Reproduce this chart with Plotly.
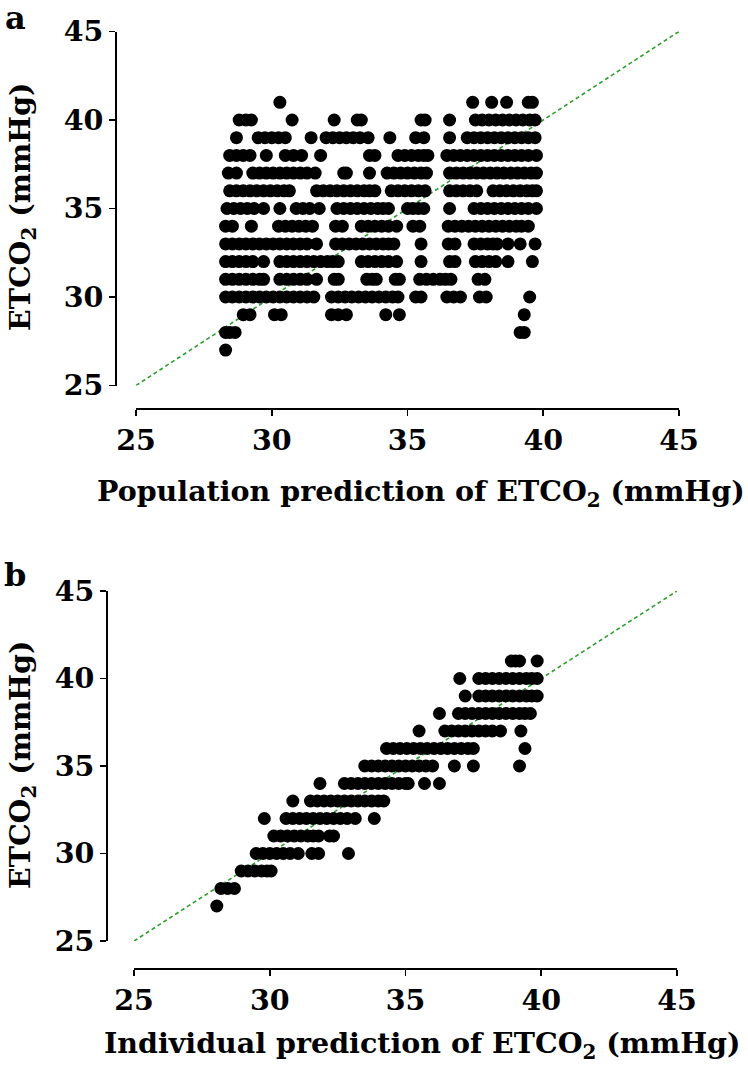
import plotly.graph_objects as go

# ---------------- Panel a: population prediction (x) vs observed ETCO2 (y) ----------------
pop_x_41 = [30.3, 37.4, 38.1, 38.65, 39.45, 39.6]
pop_x_40 = [28.8, 29.05, 29.25, 30.75, 32.3, 33.15, 33.3, 35.5, 35.65, 36.55, 37.5, 37.75, 38.0, 38.25,
            38.5, 38.75, 39.0, 39.25, 39.5, 39.7]
pop_x_39 = [28.7, 29.5, 29.75, 30.0, 30.25, 30.5, 31.45, 32.0, 32.25, 32.5, 32.75, 33.0, 33.25, 33.55,
            34.35, 35.3, 35.6, 36.55, 37.2, 37.45, 37.7, 37.95, 38.2, 38.45, 38.7, 38.95, 39.2, 39.45, 39.7]
pop_x_38 = [28.45, 28.7, 28.95, 29.2, 29.8, 30.5, 30.8, 31.1, 31.8, 33.6, 33.8, 34.65, 34.9, 35.15, 35.4,
            35.6, 35.75, 36.45, 36.7, 36.95, 37.2, 37.45, 37.7, 37.95, 38.2, 38.45, 38.7, 38.95, 39.2,
            39.45, 39.75]
pop_x_37 = [28.4, 28.7, 29.3, 29.55, 29.8, 30.05, 30.3, 30.55, 30.8, 31.05, 31.3, 31.6, 32.65, 32.75,
            33.6, 34.25, 34.5, 34.75, 35.0, 35.25, 35.5, 35.7, 36.55, 36.8, 37.05, 37.3, 37.55, 37.8,
            38.05, 38.3, 38.55, 38.8, 39.05, 39.3, 39.55, 39.75]
pop_x_36 = [28.45, 28.7, 28.95, 29.2, 29.45, 29.7, 29.95, 30.2, 30.45, 30.65, 31.65, 31.9, 32.15, 32.4,
            32.65, 32.9, 33.15, 33.4, 33.6, 33.8, 34.4, 34.65, 34.9, 35.15, 35.4, 35.65, 36.55, 36.8,
            37.05, 37.3, 37.55, 38.15, 38.4, 38.65, 38.9, 39.15, 39.4, 39.6, 39.75]
pop_x_35 = [28.35, 28.6, 28.85, 29.1, 29.35, 29.7, 30.3, 30.9, 31.15, 31.4, 31.75, 32.4, 32.65, 32.9,
            33.15, 33.4, 33.65, 33.9, 34.1, 34.3, 35.0, 35.2, 35.4, 35.6, 36.55, 37.45, 37.7, 37.95,
            38.2, 38.45, 38.7, 38.95, 39.2, 39.45, 39.75]
pop_x_34 = [28.3, 28.55, 29.25, 30.25, 30.5, 30.75, 31.0, 31.25, 31.5, 32.35, 32.6, 33.3, 33.55, 33.8,
            34.05, 34.3, 34.6, 35.2, 35.45, 36.5, 36.75, 37.0, 37.25, 37.5, 37.75, 38.0, 38.25, 38.5,
            38.75, 39.0, 39.2, 39.45]
pop_x_33 = [28.3, 28.55, 28.8, 29.05, 29.3, 29.55, 29.8, 30.05, 30.3, 30.55, 30.8, 31.05, 31.3, 31.65,
            32.35, 32.6, 32.85, 33.1, 33.35, 33.6, 33.85, 34.1, 34.3, 34.5, 35.5, 36.5, 36.75, 37.45,
            37.7, 37.95, 38.15, 38.3, 38.7, 39.15, 39.7]
pop_x_32 = [28.3, 28.55, 28.8, 29.05, 29.3, 29.7, 30.3, 30.55, 30.8, 31.05, 31.3, 31.55, 31.8, 32.05,
            32.25, 32.45, 33.3, 33.55, 33.8, 34.05, 34.3, 34.6, 35.5, 36.55, 36.75, 37.5, 37.75, 38.0,
            38.25, 38.7, 39.6]
pop_x_31 = [28.3, 28.55, 28.8, 29.05, 29.3, 29.55, 29.7, 30.3, 30.55, 30.8, 31.05, 31.3, 31.65, 32.3,
            32.45, 33.5, 33.7, 33.85, 34.55, 34.7, 35.45, 35.7, 35.95, 36.2, 36.4, 36.6, 37.6, 37.85]
pop_x_30 = [28.3, 28.55, 28.8, 29.05, 29.3, 29.55, 29.8, 30.05, 30.3, 30.55, 30.8, 31.05, 31.3, 31.55,
            32.2, 32.45, 32.7, 32.95, 33.2, 33.45, 33.7, 33.95, 34.2, 34.45, 34.65, 35.3, 35.5, 36.45,
            36.7, 36.95, 37.65, 37.9, 39.5]
pop_x_29 = [28.95, 29.2, 30.1, 30.35, 32.2, 32.45, 32.75, 34.2, 34.7, 39.3]
pop_x_28 = [28.3, 28.45, 28.65, 39.15, 39.3]
pop_x_27 = [28.3]

pop_rows = [(41, pop_x_41), (40, pop_x_40), (39, pop_x_39), (38, pop_x_38), (37, pop_x_37),
            (36, pop_x_36), (35, pop_x_35), (34, pop_x_34), (33, pop_x_33), (32, pop_x_32),
            (31, pop_x_31), (30, pop_x_30), (29, pop_x_29), (28, pop_x_28), (27, pop_x_27)]

# ---------------- Panel b: individual prediction (x) vs observed ETCO2 (y) ----------------
ind_x_41 = [38.9, 39.05, 39.2, 39.85]
ind_x_40 = [37.0, 37.7, 37.95, 38.2, 38.45, 38.7, 38.95, 39.2, 39.45, 39.65, 39.85]
ind_x_39 = [37.2, 37.7, 37.95, 38.2, 38.45, 38.7, 38.95, 39.2, 39.45, 39.65, 39.85]
ind_x_38 = [36.25, 36.95, 37.2, 37.45, 37.7, 37.95, 38.2, 38.45, 38.7, 38.95, 39.2, 39.4, 39.6]
ind_x_37 = [35.5, 36.45, 36.7, 36.95, 37.2, 37.45, 37.7, 37.95, 38.2, 38.5, 39.25]
ind_x_36 = [34.3, 34.55, 34.8, 35.05, 35.3, 35.55, 35.8, 36.05, 36.3, 36.55, 36.8, 37.05, 37.3, 37.5, 39.4]
ind_x_35 = [33.5, 33.75, 34.0, 34.25, 34.5, 34.75, 35.0, 35.25, 35.5, 35.75, 36.0, 36.8, 37.5, 39.2]
ind_x_34 = [31.85, 32.75, 33.0, 33.25, 33.5, 33.75, 34.0, 34.25, 34.5, 34.75, 35.0, 35.1, 35.7, 36.25]
ind_x_33 = [30.85, 31.5, 31.75, 32.0, 32.25, 32.5, 32.75, 33.0, 33.25, 33.5, 33.75, 34.0, 34.2]
ind_x_32 = [29.8, 30.6, 30.85, 31.1, 31.35, 31.6, 31.85, 32.1, 32.35, 32.6, 32.85, 33.15, 33.85]
ind_x_31 = [30.15, 30.4, 30.65, 30.9, 31.15, 31.4, 31.6, 31.8, 32.2, 32.35]
ind_x_30 = [29.5, 29.75, 30.0, 30.25, 30.5, 30.75, 31.05, 31.55, 31.8, 32.9]
ind_x_29 = [28.95, 29.2, 29.45, 29.7, 29.9, 30.05]
ind_x_28 = [28.2, 28.45, 28.7]
ind_x_27 = [28.05]

ind_rows = [(41, ind_x_41), (40, ind_x_40), (39, ind_x_39), (38, ind_x_38), (37, ind_x_37),
            (36, ind_x_36), (35, ind_x_35), (34, ind_x_34), (33, ind_x_33), (32, ind_x_32),
            (31, ind_x_31), (30, ind_x_30), (29, ind_x_29), (28, ind_x_28), (27, ind_x_27)]

# line of identity
identity_x = [25, 45]
identity_y = [25, 45]

tick_vals = [25, 30, 35, 40, 45]
tick_text = ["25", "30", "35", "40", "45"]


def flatten(rows):
    xs, ys = [], []
    for yv, xrow in rows:
        for xv in xrow:
            xs.append(xv)
            ys.append(yv)
    return xs, ys


pop_x, pop_y = flatten(pop_rows)
ind_x, ind_y = flatten(ind_rows)

W, H = 748, 1078
FONT = "DejaVu Serif"


def px(v):
    return v / W


def py(v):
    return 1 - v / H


fig = go.Figure()
marker = dict(color="black", size=13, line=dict(width=0))
line = dict(color="#2ca02c", width=1.6, dash="4px,3px")

fig.add_trace(go.Scatter(x=identity_x, y=identity_y, mode="lines", line=line,
                         xaxis="x", yaxis="y", hoverinfo="skip"))
fig.add_trace(go.Scatter(x=pop_x, y=pop_y, mode="markers", marker=marker,
                         xaxis="x", yaxis="y", cliponaxis=False))
fig.add_trace(go.Scatter(x=identity_x, y=identity_y, mode="lines", line=line,
                         xaxis="x2", yaxis="y2", hoverinfo="skip"))
fig.add_trace(go.Scatter(x=ind_x, y=ind_y, mode="markers", marker=marker,
                         xaxis="x2", yaxis="y2", cliponaxis=False))

tickfont = dict(family=FONT, size=28.5, color="black", weight="bold")
common = dict(range=[25, 45], tickvals=tick_vals, ticktext=tick_text, showgrid=False,
              zeroline=False, showline=True, linecolor="black", linewidth=1.6,
              ticks="outside", ticklen=6, tickwidth=1.6, tickcolor="black",
              tickfont=tickfont, fixedrange=True, automargin=False)

fig.update_layout(
    template="none",
    width=W, height=H,
    margin=dict(l=0, r=0, t=0, b=0, autoexpand=False),
    paper_bgcolor="white", plot_bgcolor="white",
    showlegend=False,
    xaxis=dict(domain=[px(136), px(679)], anchor="free", position=py(408), **common),
    yaxis=dict(domain=[py(385.5), py(31.5)], anchor="free", position=px(115), **common),
    xaxis2=dict(domain=[px(134), px(677)], anchor="free", position=py(968), **common),
    yaxis2=dict(domain=[py(941), py(591)], anchor="free", position=px(106), **common),
)

title_font = dict(family=FONT, size=28.5, color="black", weight="bold")
ann = [
    dict(text="Population prediction of ETCO<sub>2</sub> (mmHg)", x=px(421), y=py(493)),
    dict(text="Individual prediction of ETCO<sub>2</sub> (mmHg)", x=px(422), y=py(1045)),
]
for a in ann:
    fig.add_annotation(xref="paper", yref="paper", showarrow=False, font=title_font,
                       xanchor="center", yanchor="middle", **a)
for yc in (207, 765):
    fig.add_annotation(text="ETCO<sub>2</sub> (mmHg)", xref="paper", yref="paper",
                       x=px(22), y=py(yc), showarrow=False, textangle=-90, font=title_font,
                       xanchor="center", yanchor="middle")
for lab, yc in (("a", 18), ("b", 575)):
    fig.add_annotation(text=lab, xref="paper", yref="paper", x=px(15), y=py(yc),
                       showarrow=False, xanchor="center", yanchor="middle",
                       font=dict(family=FONT, size=32, color="black", weight="bold"))

fig.write_html("out.html",
               config={"displayModeBar": False, "staticPlot": True},
               post_script="document.body.style.margin='0';document.body.style.overflow='hidden';")
